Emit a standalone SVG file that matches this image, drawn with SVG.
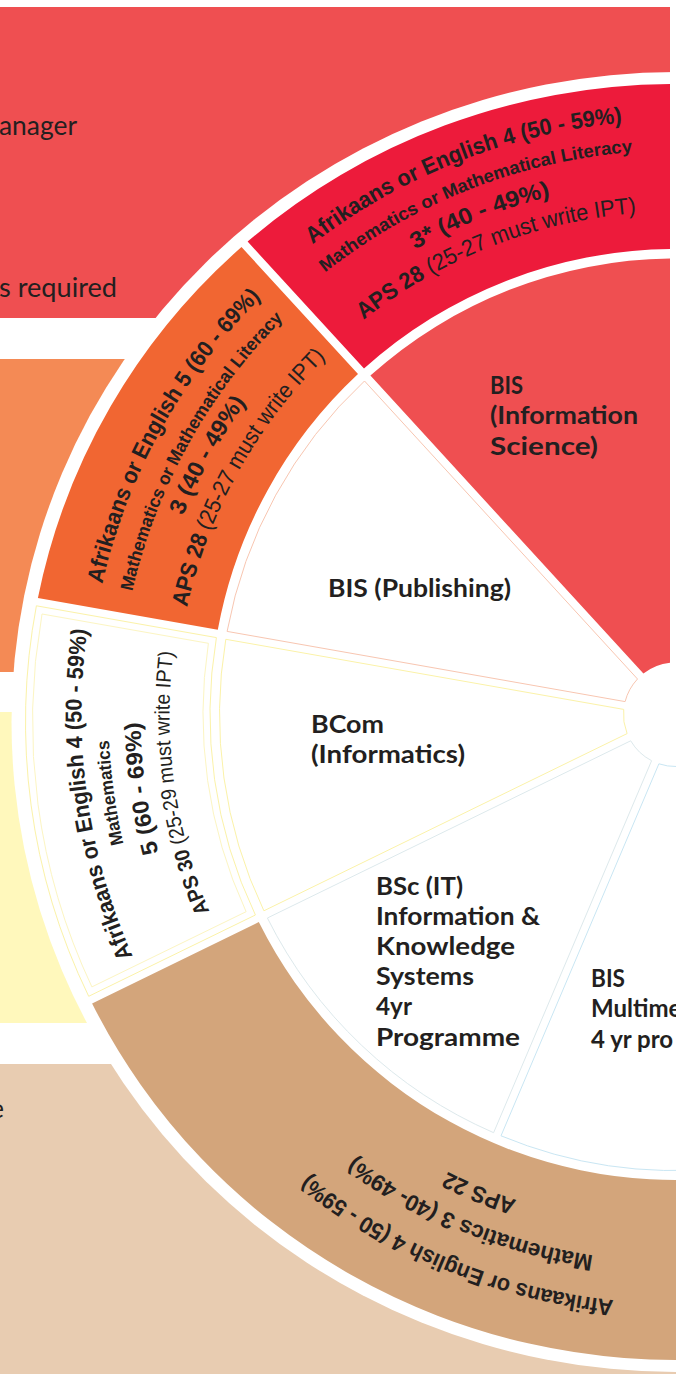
<svg xmlns="http://www.w3.org/2000/svg" width="676" height="1374" viewBox="0 0 676 1374">
<style>
text{fill:#231F20}
.lbl{font-family:Lato,"Liberation Sans",sans-serif;font-weight:700;font-size:24px}
.bgt{font-family:Lato,"Liberation Sans",sans-serif;font-weight:400;font-size:26px}
.req{font-family:"Liberation Sans",Arial,sans-serif;font-weight:700;font-size:23px}
.sm{font-size:18px}
.md{font-size:21px}
.rg{font-weight:400}
.ol{stroke-width:1}
</style>
<defs>
<path id="p594" d="M-381.82,-455.03A594,594 0 0 1 381.82,-455.03"/>
<path id="p564" d="M-362.53,-432.05A564,564 0 0 1 362.53,-432.05"/>
<path id="p533" d="M-342.61,-408.30A533,533 0 0 1 342.61,-408.30"/>
<path id="p503" d="M-323.32,-385.32A503,503 0 0 1 323.32,-385.32"/>
<path id="p588" d="M-377.96,-450.43A588,588 0 0 1 377.96,-450.43"/>
<path id="p557" d="M-358.03,-426.69A557,557 0 0 1 358.03,-426.69"/>
<path id="p531" d="M-341.32,-406.77A531,531 0 0 1 341.32,-406.77"/>
<path id="p500" d="M-321.39,-383.02A500,500 0 0 1 321.39,-383.02"/>
<path id="p567" d="M-364.46,-434.35A567,567 0 0 1 364.46,-434.35"/>
<path id="p535" d="M-343.89,-409.83A535,535 0 0 1 343.89,-409.83"/>
<path id="p506" d="M-325.25,-387.62A506,506 0 0 1 325.25,-387.62"/>
<path id="p589" d="M-378.60,-451.20A589,589 0 0 1 378.60,-451.20"/>
<path id="p547" d="M-351.61,-419.03A547,547 0 0 1 351.61,-419.03"/>
<path id="p511" d="M-328.46,-391.45A511,511 0 0 1 328.46,-391.45"/>
</defs>

<g id="background">
<rect x="0" y="7" width="670" height="311" fill="#EF4F51"/>
<rect x="0" y="359" width="320" height="313" fill="#F48A55"/>
<rect x="0" y="712" width="320" height="311" fill="#FFF8BC"/>
<rect x="0" y="1064" width="676" height="320" fill="#E8CCB1"/>
<ellipse cx="675.5" cy="722" rx="664" ry="650" fill="#fff"/>
<text class="bgt" x="-1" y="135" textLength="78" lengthAdjust="spacingAndGlyphs">anager</text>
<text class="bgt" x="-1" y="297" textLength="118" lengthAdjust="spacingAndGlyphs">s required</text>
<text class="bgt" x="4" y="1118" text-anchor="end" font-weight="700">e</text>
</g>

<g id="connectors"/>

<g id="req-information-science">
<path d="M364.0,368.6L247.6,241.6A650,638 0 0 1 670,84.0L670,249.0A465.5,465.5 0 0 0 364.0,368.6Z" fill="#ED1B3B"/>
<g transform="translate(675.5,714.5) rotate(-21.4)" text-anchor="middle">
<text class="req"><textPath href="#p594" startOffset="50%" textLength="337" lengthAdjust="spacingAndGlyphs">Afrikaans or English 4 (50 - 59%)</textPath></text>
<text class="req sm"><textPath href="#p564" startOffset="50%" textLength="335" lengthAdjust="spacingAndGlyphs">Mathematics or Mathematical Literacy</textPath></text>
<text class="req"><textPath href="#p533" startOffset="50%" textLength="146" lengthAdjust="spacingAndGlyphs">3* (40 - 49%)</textPath></text>
<text class="req"><textPath href="#p503" startOffset="50%" textLength="297" lengthAdjust="spacingAndGlyphs">APS 28<tspan class="rg"> (25-27 must write IPT)</tspan></textPath></text>
</g>
</g>

<g id="req-publishing">
<path d="M358.0,374.1L241.5,247.0A650,638 0 0 0 37.9,598.0L217.8,629.7A465.5,465.5 0 0 1 358.0,374.1Z" fill="#F16632"/>
<g transform="translate(675.5,714.5) rotate(-61)" text-anchor="middle">
<text class="req"><textPath href="#p588" startOffset="50%" textLength="332" lengthAdjust="spacingAndGlyphs">Afrikaans or English 5 (60 - 69%)</textPath></text>
<text class="req sm"><textPath href="#p557" startOffset="50%" textLength="316" lengthAdjust="spacingAndGlyphs">Mathematics or Mathematical Literacy</textPath></text>
<text class="req"><textPath href="#p531" startOffset="50%" textLength="130" lengthAdjust="spacingAndGlyphs">3 (40 - 49%)</textPath></text>
<text class="req"><textPath href="#p500" startOffset="50%" textLength="290" lengthAdjust="spacingAndGlyphs">APS 28<tspan class="rg"> (25-27 must write IPT)</tspan></textPath></text>
</g>
</g>

<g id="req-bcom">
<path d="M216.4,637.6L36.4,605.8A650,638 0 0 0 88.7,996.3L255.4,915.0A465.5,465.5 0 0 1 216.4,637.6Z" fill="#fff" stroke="#FBF2A8" class="ol"/>
<path d="M208.4,643.3L42.0,614.0A643,631 0 0 0 91.9,986.9L246.1,911.7A472.5,472.5 0 0 1 208.4,643.3Z" fill="none" stroke="#FCF5C2" class="ol"/>
<g transform="translate(675.5,714.5) rotate(262.1)" text-anchor="middle">
<text class="req"><textPath href="#p594" startOffset="50%" textLength="334" lengthAdjust="spacingAndGlyphs">Afrikaans or English 4 (50 - 59%)</textPath></text>
<text class="req sm"><textPath href="#p567" startOffset="50%" textLength="105" lengthAdjust="spacingAndGlyphs">Mathematics</textPath></text>
<text class="req"><textPath href="#p535" startOffset="50%" textLength="132" lengthAdjust="spacingAndGlyphs">5 (60 - 69%)</textPath></text>
<text class="req md"><textPath href="#p506" startOffset="50%" textLength="265" lengthAdjust="spacingAndGlyphs">APS 30<tspan class="rg"> (25-29 must write IPT)</tspan></textPath></text>
</g>
</g>

<g id="req-bsc-it">
<path d="M258.8,922.1L92.1,1003.4A650,638 0 0 0 720,1358.5L720,1177.9A465.5,465.5 0 0 1 258.8,922.1Z" fill="#D3A57B"/>
<g transform="translate(675.5,714.5) rotate(202.3)" text-anchor="middle">
<text class="req"><textPath href="#p589" startOffset="50%" textLength="335" lengthAdjust="spacingAndGlyphs">Afrikaans or English 4 (50 - 59%)</textPath></text>
<text class="req"><textPath href="#p547" startOffset="50%" textLength="261" lengthAdjust="spacingAndGlyphs">Mathematics 3 (40- 49%)</textPath></text>
<text class="req"><textPath href="#p511" startOffset="50%" textLength="75" lengthAdjust="spacingAndGlyphs">APS 22</textPath></text>
</g>
</g>

<g id="bis-information-science">
<path d="M643.4,673.6L370.4,375.6A456,456 0 0 1 670,258.5L670,662.8A52,52 0 0 0 643.4,673.6Z" fill="#EF4F51"/>
<text class="lbl" x="490" y="394" textLength="33" lengthAdjust="spacingAndGlyphs">BIS</text>
<text class="lbl" x="490" y="424" textLength="148" lengthAdjust="spacingAndGlyphs">(Information</text>
<text class="lbl" x="490" y="455" textLength="108" lengthAdjust="spacingAndGlyphs">Science)</text>
</g>

<g id="bis-publishing">
<path d="M637.5,679.0L364.5,381.0A456,456 0 0 0 227.1,631.4L625.1,701.6A52,52 0 0 1 637.5,679.0Z" fill="#fff" stroke="#F8C6B1" class="ol"/>
<text class="lbl" x="328" y="597" textLength="183" lengthAdjust="spacingAndGlyphs">BIS (Publishing)</text>
</g>

<g id="bcom-informatics">
<path d="M623.7,709.4L225.8,639.3A456,456 0 0 0 263.9,910.8L627.1,733.6A52,52 0 0 1 623.7,709.4Z" fill="#fff" stroke="#FBF2A8" class="ol"/>
<text class="lbl" x="311" y="733" textLength="73" lengthAdjust="spacingAndGlyphs">BCom</text>
<text class="lbl" x="311" y="763" textLength="154" lengthAdjust="spacingAndGlyphs">(Informatics)</text>
</g>

<g id="bsc-it">
<path d="M630.7,740.8L267.4,918.0A456,456 0 0 0 493.6,1132.7L651.6,760.7A52,52 0 0 1 630.7,740.8Z" fill="#fff" stroke="#DDE9EC" class="ol"/>
<text class="lbl" x="376" y="895" textLength="87" lengthAdjust="spacingAndGlyphs">BSc (IT)</text>
<text class="lbl" x="376" y="925" textLength="164" lengthAdjust="spacingAndGlyphs">Information &amp;</text>
<text class="lbl" x="376" y="955" textLength="139" lengthAdjust="spacingAndGlyphs">Knowledge</text>
<text class="lbl" x="376" y="985" textLength="98" lengthAdjust="spacingAndGlyphs">Systems</text>
<text class="lbl" x="376" y="1015" textLength="36" lengthAdjust="spacingAndGlyphs">4yr</text>
<text class="lbl" x="376" y="1046" textLength="144" lengthAdjust="spacingAndGlyphs">Programme</text>
</g>

<g id="bis-multimedia">
<path d="M658.9,763.8L501.0,1135.8A456,456 0 0 0 720,1168.3L720,741.4A52,52 0 0 1 658.9,763.8Z" fill="#fff" stroke="#C9E6F3" class="ol"/>
<text class="lbl" x="591" y="987" textLength="34" lengthAdjust="spacingAndGlyphs">BIS</text>
<text class="lbl" x="591" y="1017">Multime</text>
<text class="lbl" x="591" y="1048">4 yr pro</text>
</g>
</svg>
